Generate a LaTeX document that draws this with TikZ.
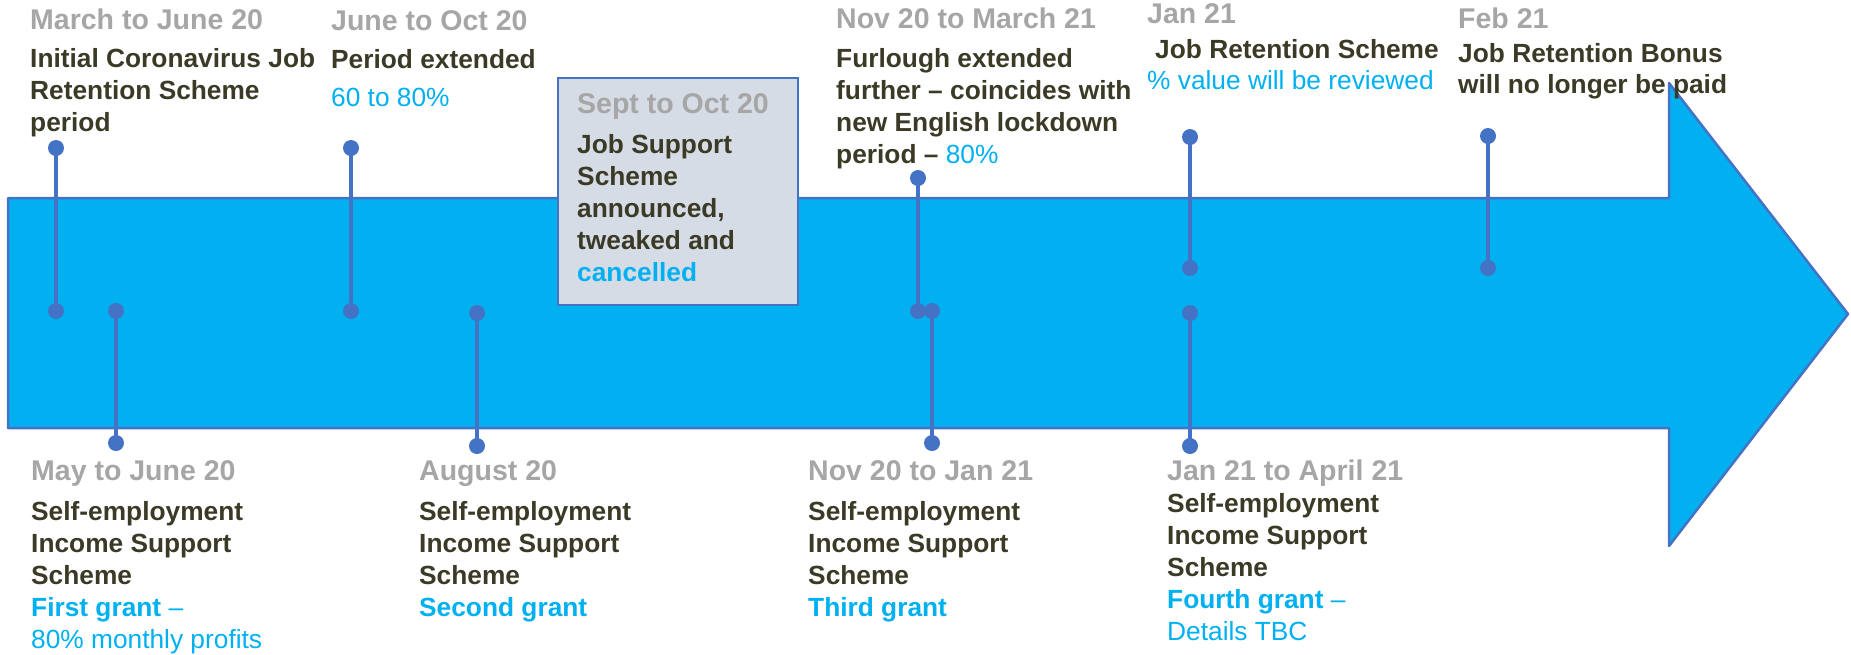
\documentclass[tikz,border=0pt]{standalone}
\usepackage{fontspec}
\setmainfont{Liberation Sans}
\definecolor{arrowfill}{HTML}{00B0F0}
\definecolor{edgeblue}{HTML}{4472C4}
\definecolor{dategray}{HTML}{A6A6A6}
\definecolor{darktext}{HTML}{3A3A26}
\definecolor{skyblue}{HTML}{00B0F0}
\definecolor{boxfill}{HTML}{D6DCE5}
\newcommand{\hl}[1]{\textcolor{skyblue}{#1}}
\newcommand{\hlr}[1]{\textcolor{skyblue}{\mdseries #1}}
% lines stacked downwards from the baseline of the first one
\newcommand{\stack}[1]{\begin{tabular}[t]{@{}l@{}}#1\end{tabular}}
\tikzset{
  datetxt/.style={font=\bfseries\fontsize{28.5}{32}\selectfont, text=dategray,
    anchor=base west, inner sep=0pt},
  bodytxt/.style={font=\bfseries\fontsize{26.3}{32}\selectfont, text=darktext,
    anchor=base west, inner sep=0pt},
  stem/.style={draw=edgeblue, line width=3.5pt},
  dot/.style={circle, fill=edgeblue, minimum size=16pt, inner sep=0pt},
  arrowbody/.style={fill=arrowfill, draw=edgeblue, line width=2.5pt, line join=round},
  notebox/.style={fill=boxfill, draw=edgeblue, line width=2pt, anchor=north west,
    inner sep=0pt, minimum width=240pt, minimum height=227pt}
}
\begin{document}
\begin{tikzpicture}[x=1pt, y=-1pt]
\useasboundingbox (0,0) rectangle (1851,654);

% timeline arrow
\draw[arrowbody] (8,198) -- (1669,198) -- (1669,83) -- (1848,314)
  -- (1669,546) -- (1669,428) -- (8,428) -- cycle;

% highlighted box
\node[notebox] (sbox) at (557,77) {};

% lollipop markers
\foreach \n/\x/\ya/\yb in {m1/56/148/311, m2/116/311/443, m3/351/148/311,
    m4/477/313/446, m5/918/178/311, m6/932/311/443, m7/1190/137/268,
    m8/1190/313/446, m9/1488/136/268}{
  \node[dot] (\n a) at (\x,\ya) {};
  \node[dot] (\n b) at (\x,\yb) {};
  \draw[stem] (\n a.center) -- (\n b.center);
}

% upper labels
\node[datetxt] (d1) at (30,29) {March to June 20};
\node[bodytxt] (t1) at (30,67) {\stack{Initial Coronavirus Job\\Retention Scheme\\period}};

\node[datetxt] (d2) at (331,30) {June to Oct 20};
\node[bodytxt] (t2) at (331,68) {\stack{Period extended\\[6pt]\hlr{60 to 80\%}}};

\node[datetxt] (d3) at (577,113) {Sept to Oct 20};
\node[bodytxt] (t3) at (577,153) {\stack{Job Support\\Scheme\\announced,\\tweaked and\\\hl{cancelled}}};

\node[datetxt] (d4) at (836,28) {Nov 20 to March 21};
\node[bodytxt] (t4) at (836,67) {\stack{Furlough extended\\further -- coincides with\\new English lockdown\\period -- \hlr{80\%}}};

\node[datetxt] (d5) at (1147,23) {Jan 21};
\node[bodytxt] (t5) at (1147,58) {\stack{\hspace*{8pt}Job Retention Scheme\\[-1pt]\hlr{\% value will be reviewed}}};

\node[datetxt] (d6) at (1458,28) {Feb 21};
\node[bodytxt] (t6) at (1458,62) {\stack{Job Retention Bonus\\[-1pt]will no longer be paid}};

% lower labels
\node[datetxt] (d7) at (31,480) {May to June 20};
\node[bodytxt] (t7) at (31,520) {\stack{Self-employment\\Income Support\\Scheme\\\hl{First grant} \hlr{--}\\\hlr{80\% monthly profits}}};

\node[datetxt] (d8) at (419,480) {August 20};
\node[bodytxt] (t8) at (419,520) {\stack{Self-employment\\Income Support\\Scheme\\\hl{Second grant}}};

\node[datetxt] (d9) at (808,480) {Nov 20 to Jan 21};
\node[bodytxt] (t9) at (808,520) {\stack{Self-employment\\Income Support\\Scheme\\\hl{Third grant}}};

\node[datetxt] (d10) at (1167,480) {Jan 21 to April 21};
\node[bodytxt] (t10) at (1167,512) {\stack{Self-employment\\Income Support\\Scheme\\\hl{Fourth grant} \hlr{--}\\\hlr{Details TBC}}};
\end{tikzpicture}
\end{document}
